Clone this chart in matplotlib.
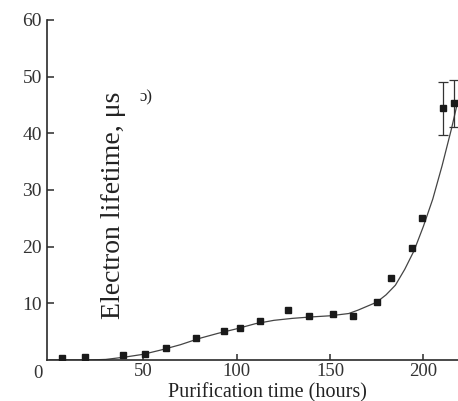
import matplotlib
matplotlib.use('Agg')
import matplotlib.pyplot as plt

# measured points (hours, microseconds)
time_h = [6.8, 18.8, 39.3, 50.9, 62.5, 78.2, 93.4, 101.8, 112.5, 127.7,
          139.0, 151.8, 162.2, 175.1, 182.7, 193.8, 199.2]
lifetime = [0.4, 0.6, 0.8, 1.1, 2.1, 3.9, 5.1, 5.6, 6.8, 8.8,
            7.8, 8.1, 7.8, 10.2, 14.5, 19.8, 25.0]

# last two points carry error bars
err_time = [210.7, 216.6]
err_lifetime = [44.4, 45.3]
err_size = [4.7, 4.2]

# fitted curve
fit_time = [0, 20, 30, 40, 50, 60, 70, 80, 90, 100, 110, 120, 130, 140, 150,
            160, 165, 170, 175, 180, 185, 190, 195, 200, 205, 210, 215, 218.5]
fit_val = [0.0, 0.0, 0.1, 0.5, 1.0, 1.8, 2.7, 3.8, 4.7, 5.5, 6.4, 7.0, 7.35,
           7.6, 7.8, 8.2, 8.8, 9.5, 10.2, 11.5, 13.2, 16.0, 19.3, 23.6, 28.4,
           34.3, 40.8, 45.8]

x_ticks = [50, 100, 150, 200]
y_ticks = [10, 20, 30, 40, 50, 60]

plt.rcParams['font.family'] = ['Liberation Serif', 'DejaVu Serif']

W, H = 458, 401
fig = plt.figure(figsize=(W / 100, H / 100), dpi=100)
ax = fig.add_axes([47.4 / W, 41 / H, (W - 47.4) / W, 340 / H])

ink = '#2a2a2a'
ax.plot(fit_time, fit_val, color='#444444', lw=0.9, zorder=2)
ax.plot(time_h, lifetime, 's', color='#1a1a1a', ms=5, zorder=3)
ax.errorbar(err_time, err_lifetime, yerr=err_size, fmt='s', color='#1a1a1a',
            ms=5, ecolor='#333333', elinewidth=0.9, capsize=3.5,
            capthick=0.9, zorder=3)

ax.set_xlim(-1.2, 218.5)
ax.set_ylim(0, 60)
ax.set_xticks(x_ticks)
ax.set_yticks(y_ticks)
ax.spines['top'].set_visible(False)
ax.spines['right'].set_visible(False)
for s in ('left', 'bottom'):
    ax.spines[s].set_linewidth(1.2)
    ax.spines[s].set_color(ink)
ax.tick_params(axis='y', direction='in', length=5, width=1.1, color=ink,
               labelsize=14, labelcolor='#333333', pad=4)
ax.tick_params(axis='x', direction='in', length=4.5, width=1.1, color=ink,
               labelsize=13.5, labelcolor='#333333', pad=2.5)

# shared origin label
fig.text(38 / W, (H - 373) / H, '0', fontsize=13.5, color='#333333',
         ha='center', va='center')
fig.text(267 / W, (H - 397) / H, 'Purification time (hours)', fontsize=14.5,
         color='#222222', ha='center', va='baseline')
fig.text(113 / W, (H - 205) / H, 'Electron lifetime, μs', fontsize=20,
         color='#222222', rotation=90, ha='center', va='center')
fig.text(146 / W, (H - 97) / H, 'ɔ)', fontsize=12, color='#222222',
         ha='center', va='center')

fig.savefig('out.png', dpi=100)
